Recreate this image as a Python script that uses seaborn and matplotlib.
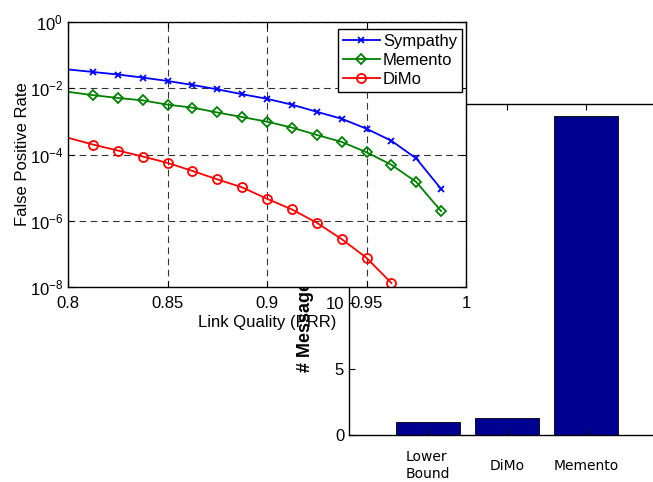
import pandas as pd
import numpy as np
import matplotlib
matplotlib.use('Agg')
import matplotlib.pyplot as plt
import seaborn as sns
from matplotlib.lines import Line2D
from matplotlib.ticker import NullLocator

plt.rcParams['font.family'] = ['Liberation Sans', 'DejaVu Sans']
plt.rcParams['mathtext.default'] = 'regular'
plt.rcParams.update({
    'font.size': 12,
    'axes.linewidth': 1.0,
    'axes.edgecolor': 'black',
})

# ===== data =====
link_quality = [0.8, 0.8125, 0.825, 0.8375, 0.85, 0.8625, 0.875, 0.8875,
                0.9, 0.9125, 0.925, 0.9375, 0.95, 0.9625, 0.975, 0.9875]
sympathy_fpr = [3.7e-2, 3.1e-2, 2.6e-2, 2.1e-2, 1.66e-2, 1.26e-2, 9.3e-3, 6.6e-3,
                4.8e-3, 3.2e-3, 1.95e-3, 1.2e-3, 6.0e-4, 2.6e-4, 7.6e-5, 9.1e-6]
memento_fpr = [7.8e-3, 6.2e-3, 5.1e-3, 4.3e-3, 3.2e-3, 2.6e-3, 1.86e-3, 1.35e-3,
               9.8e-4, 6.5e-4, 3.9e-4, 2.4e-4, 1.17e-4, 4.9e-5, 1.48e-5, 1.95e-6]
dimo_fpr = [3.2e-4, 2.0e-4, 1.32e-4, 8.7e-5, 5.6e-5, 3.2e-5, 1.78e-5, 1.02e-5,
            4.6e-6, 2.2e-6, 8.7e-7, 2.8e-7, 7.6e-8, 1.32e-8]

bar_labels = ['Lower\nBound', 'DiMo', 'Memento']
bar_values = [1.0, 1.3, 24.1]

fig = plt.figure(figsize=(6.53, 4.82), dpi=100)
fig.patch.set_facecolor('white')

# ===== bar chart (behind) =====
ax_bar = fig.add_axes([349 / 653, 47 / 482, 316 / 653, 331 / 482])
ax_bar.set_zorder(1)
ax_bar.patch.set_alpha(0)
bar_df = pd.DataFrame({'method': bar_labels, 'messages': bar_values})
sns.barplot(data=bar_df, x='method', y='messages', color='#000090',
            saturation=1, width=0.8, edgecolor='black', linewidth=0.6, ax=ax_bar)
ax_bar.set_xlim(-1, 3)
ax_bar.set_ylim(0, 25)
ax_bar.set_yticks([0, 5, 10, 15, 20, 25])
ax_bar.tick_params(axis='both', direction='in', length=4, width=0.8,
                   top=True, labelsize=12)
ax_bar.tick_params(axis='x', pad=22)
for lbl in ax_bar.get_xticklabels():
    lbl.set_verticalalignment('center')
    lbl.set_multialignment('left')
    lbl.set_fontfamily('DejaVu Sans')
    lbl.set_fontsize(10)
ax_bar.set_xlabel('')
ax_bar.set_ylabel('# Messages', fontsize=13, fontweight='bold', loc='bottom')
ax_bar.yaxis.set_label_coords((314 - 349) / 316, (435 - 372) / 331)
for side in ['top', 'right', 'left', 'bottom']:
    ax_bar.spines[side].set_visible(True)

# ===== line chart (front) =====
ax = fig.add_axes([68 / 653, 195 / 482, 398 / 653, 265 / 482])
ax.set_zorder(2)
ax.patch.set_facecolor('white')

series = [
    ('Sympathy', sympathy_fpr, '#0000ff', 'x', 4.5),
    ('Memento', memento_fpr, '#008000', 'D', 5.0),
    ('DiMo', dimo_fpr, '#ff0000', 'o', 6.5),
]
handles = []
for name, vals, color, marker, ms in series:
    df = pd.DataFrame({'x': link_quality[:len(vals)], 'y': vals})
    sns.lineplot(data=df, x='x', y='y', color=color, lw=1.3, marker=marker,
                 ms=ms, mfc='none', mec=color, mew=1.3,
                 markevery=slice(1, None), sort=False, ax=ax)
    handles.append(Line2D([], [], color=color, lw=1.3, marker=marker, ms=ms,
                          mfc='none', mec=color, mew=1.3, label=name))

ax.set_yscale('log')
ax.set_xlim(0.8, 1.0)
ax.set_ylim(1e-8, 1e0)
ax.set_xticks([0.8, 0.85, 0.9, 0.95, 1.0])
ax.set_xticklabels(['0.8', '0.85', '0.9', '0.95', '1'])
ax.set_yticks([1e-8, 1e-6, 1e-4, 1e-2, 1e0])
ax.yaxis.set_minor_locator(NullLocator())
ax.tick_params(axis='both', direction='in', length=4, width=0.8,
               top=True, right=True, labelsize=12)
ax.tick_params(axis='x', pad=6.5)
ax.grid(True, which='major', ls=(0, (6, 4)), color='black', lw=0.8, alpha=0.8)
ax.set_xlabel('Link Quality (PRR)', fontsize=12, labelpad=3)
ax.set_ylabel('False Positive Rate', fontsize=12, labelpad=0)

leg = ax.legend(handles=handles, loc='upper right',
                bbox_to_anchor=((462 - 68) / 398, (287 - 29) / 265),
                borderaxespad=0, fontsize=12, frameon=True, fancybox=False,
                edgecolor='black', framealpha=1, handlelength=2.2,
                handletextpad=0.2, labelspacing=0.25, borderpad=0.3)
leg.get_frame().set_linewidth(1.0)

fig.savefig('out.png', dpi=100)
plt.close()
